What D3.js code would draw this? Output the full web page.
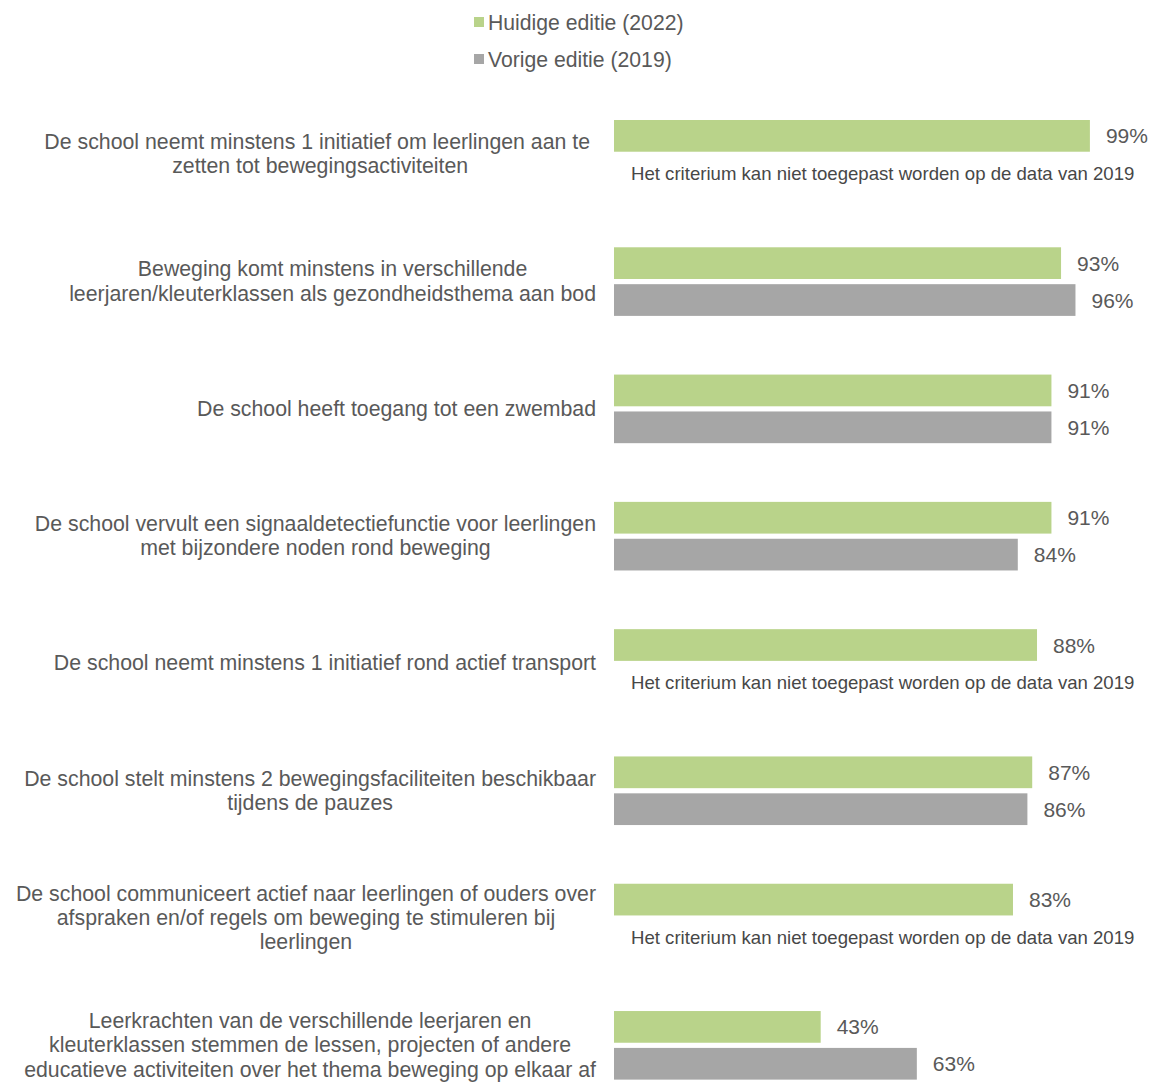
<!DOCTYPE html>
<html>
<head>
<meta charset="utf-8">
<script src="https://cdn.jsdelivr.net/npm/d3@7"></script>
<style>
  body { margin: 0; background: #fff; }
  svg { font-family: "Liberation Sans", Arial, sans-serif; }
</style>
</head>
<body>
<svg id="chart"></svg>
<script>
var width = 1158,
    height = 1082;

// categories, line breaks as in the original chart
var categories = [
    'De school neemt minstens 1 initiatief om leerlingen aan te \nzetten tot bewegingsactiviteiten',
    'Beweging komt minstens in verschillende\nleerjaren/kleuterklassen als gezondheidsthema aan bod',
    'De school heeft toegang tot een zwembad',
    'De school vervult een signaaldetectiefunctie voor leerlingen\nmet bijzondere noden rond beweging',
    'De school neemt minstens 1 initiatief rond actief transport',
    'De school stelt minstens 2 bewegingsfaciliteiten beschikbaar\ntijdens de pauzes',
    'De school communiceert actief naar leerlingen of ouders over\nafspraken en/of regels om beweging te stimuleren bij\nleerlingen',
    'Leerkrachten van de verschillende leerjaren en\nkleuterklassen stemmen de lessen, projecten of andere\neducatieve activiteiten over het thema beweging op elkaar af'
];
var series = ['Huidige editie (2022)', 'Vorige editie (2019)'];
var values2022 = [0.99, 0.93, 0.91, 0.91, 0.88, 0.87, 0.83, 0.43];
var values2019 = [null, 0.96, 0.91, 0.84, null, 0.86, null, 0.63];
var noDataText = 'Het criterium kan niet toegepast worden op de data van 2019';

var COLORS = ['#b9d38a', '#a6a6a6'];
var TEXT = '#595959';

var svg = d3.select('#chart')
    .attr('width', width)
    .attr('height', height);

var x = d3.scaleLinear()
    .domain([0, 1])
    .range([614, 614 + 480.7]);

var y = d3.scaleBand()
    .domain(d3.range(categories.length))
    .range([120, 120 + 7 * 127.29 + 68.6])
    .paddingInner(1 - 68.6 / 127.29)
    .paddingOuter(0);

var ySub = d3.scaleBand()
    .domain([0, 1])
    .range([0, y.bandwidth()])
    .paddingInner(0.14)
    .paddingOuter(0);

var rows = categories.map(function (c, i) {
    return { i: i, label: c, vals: [values2022[i], values2019[i]] };
});

// legend
var legend = svg.append('g').attr('class', 'legend');
series.forEach(function (s, k) {
    var ly = 22 + k * 37;
    legend.append('rect')
        .attr('x', 474).attr('y', ly - 5)
        .attr('width', 10).attr('height', 10)
        .attr('fill', COLORS[k]);
    legend.append('text')
        .attr('x', 488).attr('y', ly)
        .attr('dominant-baseline', 'central')
        .attr('fill', TEXT)
        .style('font-size', '21.2px')
        .text(s);
});

var groups = svg.selectAll('g.row')
    .data(rows)
    .enter()
    .append('g')
    .attr('class', 'row')
    .attr('transform', function (d) { return 'translate(0,' + y(d.i) + ')'; });

groups.each(function (d) {
    var g = d3.select(this);

    // category label, centred lines, block right aligned at 596
    var lines = d.label.split('\n');
    var lh = 24.3;
    var mid = y.bandwidth() / 2;
    var label = g.append('text')
        .attr('fill', TEXT)
        .style('font-size', '21.3px')
        .style('white-space', 'pre')
        .attr('text-anchor', 'middle');
    var tspans = lines.map(function (l, k) {
        return label.append('tspan')
            .attr('y', mid + (k - (lines.length - 1) / 2) * lh)
            .attr('dominant-baseline', 'central')
            .text(l);
    });
    var maxW = d3.max(tspans, function (t) { return t.node().getComputedTextLength(); });
    tspans.forEach(function (t) { t.attr('x', 596 - maxW / 2); });

    d.vals.forEach(function (v, k) {
        var by = ySub(k);
        if (v == null) {
            g.append('text')
                .attr('x', 631)
                .attr('y', by + ySub.bandwidth() / 2 + 1)
                .attr('dominant-baseline', 'central')
                .attr('fill', '#474747')
                .style('font-size', '18.6px')
                .text(noDataText);
            return;
        }
        g.append('rect')
            .attr('x', x(0))
            .attr('y', by)
            .attr('width', x(v) - x(0))
            .attr('height', ySub.bandwidth())
            .attr('fill', COLORS[k]);
        g.append('text')
            .attr('x', x(v) + 16)
            .attr('y', by + ySub.bandwidth() / 2)
            .attr('dominant-baseline', 'central')
            .attr('fill', TEXT)
            .style('font-size', '21px')
            .text(d3.format('.0%')(v));
    });
});
</script>
</body>
</html>
